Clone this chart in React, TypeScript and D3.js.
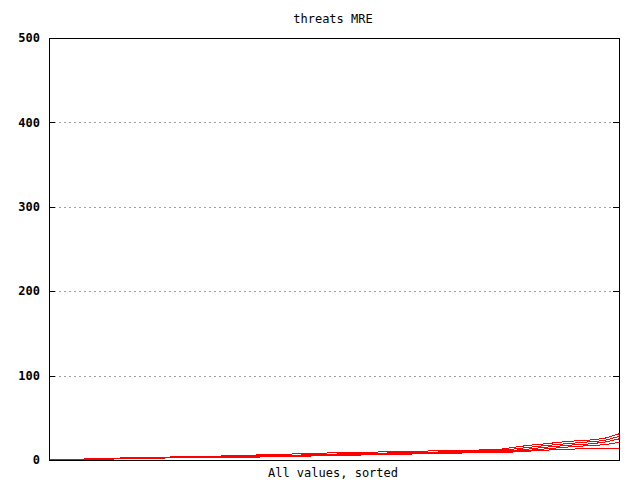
import React from "react";
import * as d3 from "d3";

const title = "threats MRE";
const xLabel = "All values, sorted";
const yTicks = [0, 100, 200, 300, 400, 500];

const seriesA = [1, 1, 1, 1.5, 2, 2.5, 3, 3.5, 3.5, 4, 4, 4.5, 5, 5.5, 6, 6.5, 7, 7.5, 8, 8.5, 8.5, 9, 9.5, 9.5, 10, 10.5, 11, 11, 11.5, 12, 12.5, 15, 17.5, 19, 21, 22.5, 23.5, 25.5, 31];
const seriesB = [1, 1, 1, 1.5, 2, 2.5, 2.5, 3, 3, 3.5, 3.5, 4, 4.5, 4.5, 5, 5.5, 5.5, 6, 6.5, 7, 7.5, 7.5, 8, 8.5, 9, 9, 9.5, 10, 10.5, 11, 11.5, 13, 15, 17, 18.5, 20, 21.5, 23, 28];
const seriesC = [1, 1, 1, 1, 1.5, 2, 2.5, 2.5, 3, 3, 3, 3.5, 3.5, 4, 4, 4.5, 5, 5, 5.5, 6, 6.5, 7, 7, 7.5, 8, 8.5, 9, 9, 9.5, 10, 10.5, 11.5, 13, 15, 16.5, 18, 19, 21, 25];
const seriesD = [1, 1, 1, 1, 1.5, 2, 2, 2.5, 2.5, 3, 3, 3, 3.5, 3.5, 4, 4, 4.5, 5, 5, 5.5, 6, 6.5, 7, 7, 7.5, 8, 8, 8.5, 9, 9.5, 10, 10.5, 11.5, 13, 14.5, 16, 17, 18, 21];
const seriesE = [1, 1, 1, 1, 1, 1.5, 2, 2, 2.5, 2.5, 2.5, 3, 3, 3, 3.5, 4, 4, 4.5, 5, 5, 5.5, 6, 6.5, 6.5, 7, 7.5, 7.5, 8, 8.5, 9, 9, 9.5, 10.5, 11.5, 12.5, 13, 13.5, 14, 14];

const allSeries = [seriesA, seriesB, seriesC, seriesD, seriesE];

export default function App() {
  const W = 640, H = 480;
  const left = 49, right = 619, top = 38, bottom = 460;
  const n = seriesA.length;
  const x = d3.scaleLinear().domain([0, n - 1]).range([left, right]);
  const y = d3.scaleLinear().domain([0, 500]).range([bottom, top]);
  const line = d3.line<number>().x((_, i) => x(i)).y((d) => y(d));
  const font = "'DejaVu Sans Mono', monospace";

  return (
    <div style={{ position: "fixed", left: 0, top: 0 }}>
      <svg width={W} height={H} style={{ display: "block", background: "#fff" }}>
        <rect x={0} y={0} width={W} height={H} fill="#fff" />
        {yTicks.slice(1, -1).map((t) => (
          <line key={"g" + t} x1={left} x2={right} y1={Math.round(y(t)) + 0.5} y2={Math.round(y(t)) + 0.5}
            stroke="#a0a0a0" strokeWidth={1} strokeDasharray="2,3" shapeRendering="crispEdges" />
        ))}
        {yTicks.map((t) => (
          <g key={"t" + t}>
            <line x1={left} x2={left + 6} y1={Math.round(y(t)) + 0.5} y2={Math.round(y(t)) + 0.5} stroke="#000" shapeRendering="crispEdges" />
            <line x1={right - 6} x2={right} y1={Math.round(y(t)) + 0.5} y2={Math.round(y(t)) + 0.5} stroke="#000" shapeRendering="crispEdges" />
            <text x={40} y={y(t)} dy="0.35em" textAnchor="end" fontFamily={font} fontWeight="bold" fontSize={12} fill="#000">{t}</text>
          </g>
        ))}
        {allSeries.map((s, i) => (
          <path key={"s" + i} d={line(s) || ""} fill="none" stroke="#ff0000" strokeWidth={1} shapeRendering="crispEdges" />
        ))}
        <rect x={left + 0.5} y={top + 0.5} width={right - left} height={bottom - top} fill="none" stroke="#000" strokeWidth={1} shapeRendering="crispEdges" />
        <text x={333} y={19} dy="0.35em" textAnchor="middle" fontFamily={font} fontSize={12} fill="#000">{title}</text>
        <text x={333} y={473} dy="0.35em" textAnchor="middle" fontFamily={font} fontSize={12} fill="#000">{xLabel}</text>
      </svg>
    </div>
  );
}
